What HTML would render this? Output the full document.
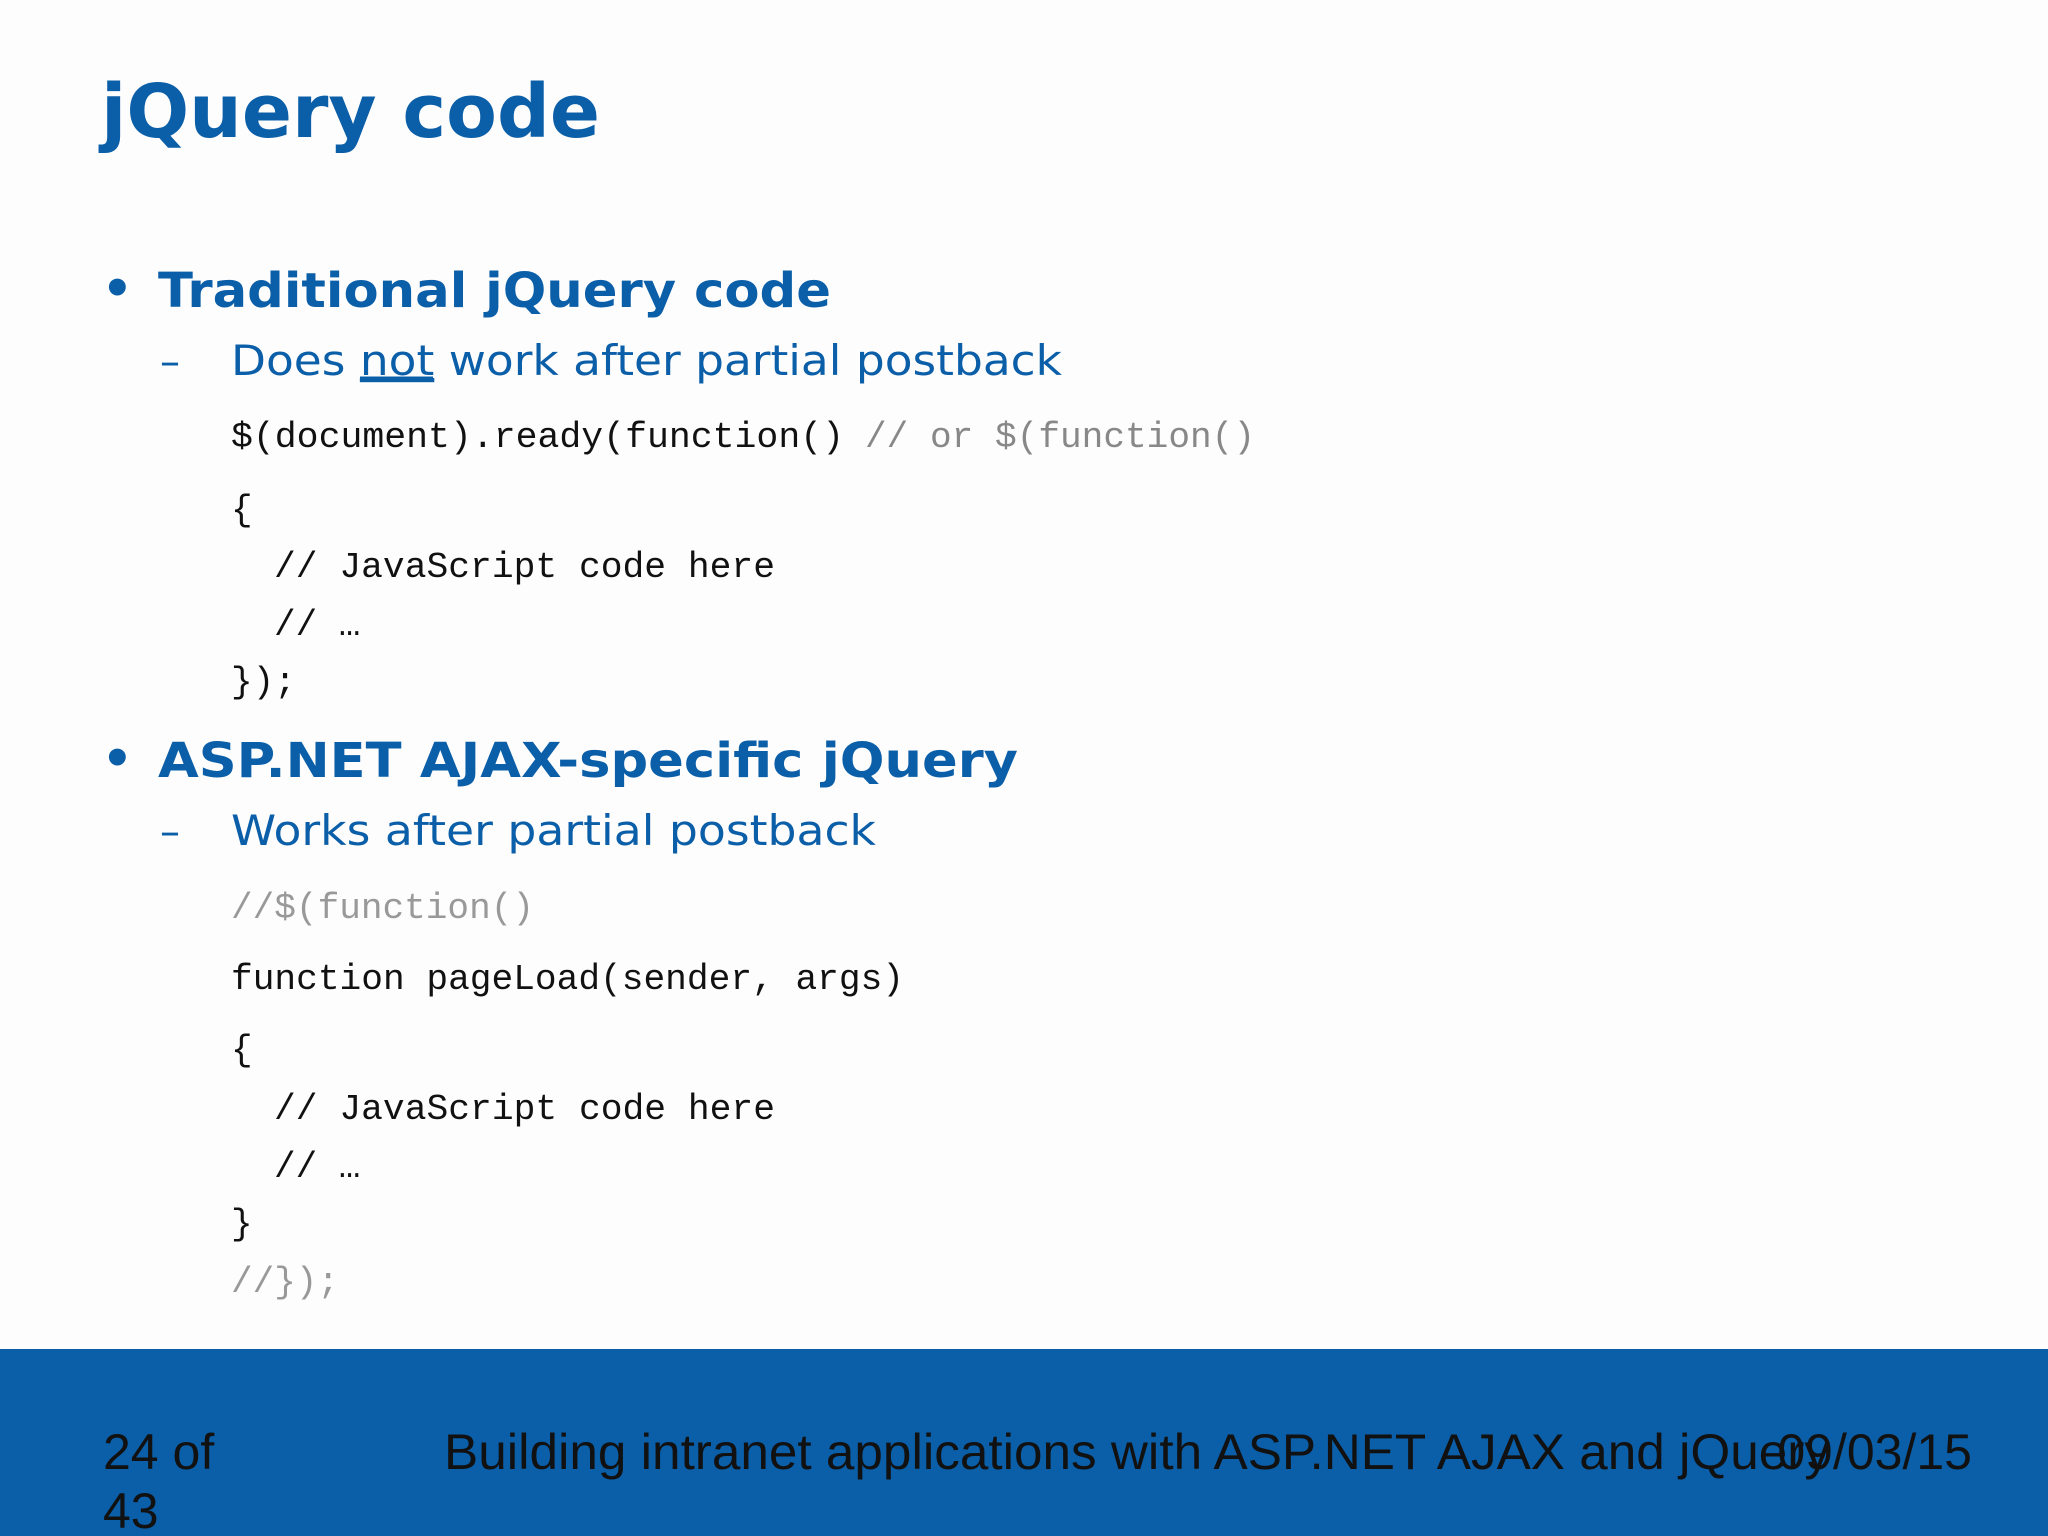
<!DOCTYPE html>
<html><head><meta charset="utf-8"><style>html,body{margin:0;padding:0;background:#fdfdfd}svg{display:block}</style></head>
<body>
<svg width="2048" height="1536" viewBox="0 0 2048 1536" xmlns="http://www.w3.org/2000/svg">
<rect width="2048" height="1536" fill="#fdfdfd"/>
<g fill="#0b5ea8" font-family="'DejaVu Sans', Verdana, sans-serif">
<text x="101" y="137" font-size="74" font-weight="bold" textLength="499" lengthAdjust="spacingAndGlyphs">jQuery code</text>
<text x="102" y="305" font-size="48" font-weight="bold">•</text>
<text x="158" y="307" font-size="48" font-weight="bold" textLength="673" lengthAdjust="spacingAndGlyphs">Traditional jQuery code</text>
<text x="160" y="375" font-size="40">–</text>
<text x="231" y="375" font-size="42" textLength="831" lengthAdjust="spacingAndGlyphs">Does <tspan text-decoration="underline">not</tspan> work after partial postback</text>
<text x="102" y="775" font-size="48" font-weight="bold">•</text>
<text x="158" y="777" font-size="48" font-weight="bold" textLength="860" lengthAdjust="spacingAndGlyphs">ASP.NET AJAX-specific jQuery</text>
<text x="160" y="845" font-size="40">–</text>
<text x="231" y="845" font-size="42" textLength="645" lengthAdjust="spacingAndGlyphs">Works after partial postback</text>
</g>
<line x1="360" y1="378" x2="433" y2="378" stroke="#0b5ea8" stroke-width="3"/>
<g font-family="'Liberation Mono', monospace" font-size="36" fill="#111">
<text x="231" y="447" textLength="613" lengthAdjust="spacingAndGlyphs">$(document).ready(function()</text>
<text x="865" y="447" fill="#888" textLength="390" lengthAdjust="spacingAndGlyphs">// or $(function()</text>
<text x="231" y="520">{</text>
<text x="274" y="577" textLength="501" lengthAdjust="spacingAndGlyphs">// JavaScript code here</text>
<text x="274" y="635">// …</text>
<text x="231" y="692">});</text>
<text x="231" y="918" fill="#999" textLength="303" lengthAdjust="spacingAndGlyphs">//$(function()</text>
<text x="231" y="989" textLength="673" lengthAdjust="spacingAndGlyphs">function pageLoad(sender, args)</text>
<text x="231" y="1060">{</text>
<text x="274" y="1119" textLength="501" lengthAdjust="spacingAndGlyphs">// JavaScript code here</text>
<text x="274" y="1177">// …</text>
<text x="231" y="1234">}</text>
<text x="231" y="1292" fill="#999">//});</text>
</g>
<rect x="0" y="1349" width="2048" height="187" fill="#0b5ea8"/>
<g font-family="'Liberation Sans', Arial, sans-serif" font-size="50" fill="#111">
<text x="103" y="1469">24 of</text>
<text x="103" y="1528">43</text>
<text x="444" y="1469" textLength="1386" lengthAdjust="spacingAndGlyphs">Building intranet applications with ASP.NET AJAX and jQuery</text>
<text x="1972" y="1469" text-anchor="end">09/03/15</text>
</g>
</svg>
</body></html>
